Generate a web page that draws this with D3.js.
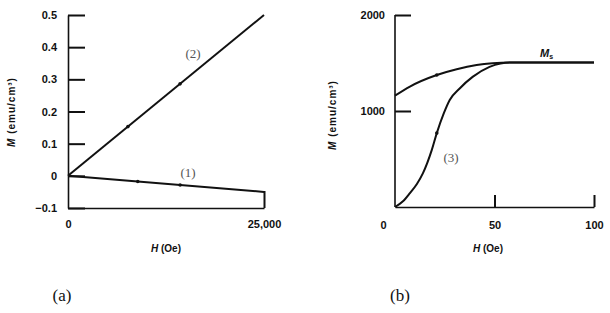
<!DOCTYPE html>
<html>
<head>
<meta charset="utf-8">
<script src="https://cdn.jsdelivr.net/npm/d3@7"></script>
<style>
  body { margin: 0; background: #fff; }
  svg { display: block; }
  .axis path, .axis line { stroke: #111; stroke-width: 1.6; }
  .tk { fill: #111; }
  .axis text { font-family: "Liberation Sans", Arial, sans-serif; font-size: 11px; font-weight: bold; fill: #111; }
  .title { font-family: "Liberation Sans", Arial, sans-serif; font-size: 10px; font-weight: bold; fill: #111; }
  .curve { fill: none; stroke: #111; stroke-width: 2; }
  .tag { font-family: "Liberation Serif", "Times New Roman", serif; font-size: 13px; fill: #555; }
  .panel { font-family: "Liberation Serif", "Times New Roman", serif; font-size: 17px; fill: #111; }
</style>
</head>
<body>
<svg id="graph"></svg>
<script>
/* panel (a): M vs H, straight lines */
var aH = [0, 25000];
var aLine2 = [0, 0.5];      // curve (2)
var aLine1 = [0, -0.05];    // curve (1)
var aDots2H = [7650, 14300];
var aDots1H = [8900, 14300];
var aYTicks = [-0.1, 0, 0.1, 0.2, 0.3, 0.4, 0.5];
var aXTicks = [0, 25000];

/* panel (b): M vs H, Ms and curve (3) */
var msH = [0, 7.5, 21, 31, 41, 49, 58, 75, 100];
var msM = [1160, 1255, 1375, 1435, 1478, 1497, 1505, 1505, 1505];
var c3H = [0, 4, 7.5, 11, 14, 18.5, 21, 24.5, 27.5, 32.5, 39, 47.5, 53, 58, 75, 100];
var c3M = [0, 60, 145, 240, 350, 595, 770, 975, 1115, 1235, 1355, 1460, 1495, 1505, 1505, 1505];
var bYTicks = [1000, 2000];
var bXTicks = [0, 50, 100];

var svg = d3.select("#graph")
    .attr("width", 610)
    .attr("height", 313);

/* ---------- panel (a) ---------- */
var xa = d3.scaleLinear().domain([0, 25000]).range([68, 264]),
    ya = d3.scaleLinear().domain([-0.1, 0.5]).range([208, 15]);

var ga = svg.append("g");

ga.append("g")
    .attr("class", "axis")
    .attr("transform", "translate(" + xa(0) + ",0)")
    .call(d3.axisLeft(ya).tickValues(aYTicks).tickSize(0).tickPadding(11)
        .tickFormat(function(d) { return d === 0 ? "0" : d3.format(".1f")(d).replace("-", "\u2212"); }));

// inward tick marks on the M axis (drawn as thin rects)
ga.selectAll(".ytk").data(aYTicks).enter().append("rect")
    .attr("class", "tk")
    .attr("x", xa(0)).attr("width", 17)
    .attr("y", function(d) { return ya(d) - 0.5; })
    .attr("height", 2);

ga.append("g")
    .attr("class", "axis")
    .attr("transform", "translate(0," + ya(-0.1) + ")")
    .call(d3.axisBottom(xa).tickValues(aXTicks).tickSize(0).tickPadding(12)
        .tickFormat(d3.format(",")));

ga.selectAll(".xtk").data(aXTicks.slice(1)).enter().append("rect")
    .attr("class", "tk")
    .attr("x", function(d) { return xa(d) - 0.5; })
    .attr("width", 2)
    .attr("y", ya(-0.1) - 17).attr("height", 17);

var lineA = d3.line()
    .x(function(d) { return xa(d[0]); })
    .y(function(d) { return ya(d[1]); });

ga.append("path").attr("class", "curve")
    .attr("d", lineA(d3.zip(aH, aLine2)));
ga.append("path").attr("class", "curve")
    .attr("d", lineA(d3.zip(aH, aLine1)));

ga.selectAll(".dot2").data(aDots2H).enter().append("circle")
    .attr("cx", function(d) { return xa(d); })
    .attr("cy", function(d) { return ya(d / 25000 * 0.5); })
    .attr("r", 1.8).attr("fill", "#111");
ga.selectAll(".dot1").data(aDots1H).enter().append("circle")
    .attr("cx", function(d) { return xa(d); })
    .attr("cy", function(d) { return ya(-d / 25000 * 0.05); })
    .attr("r", 1.8).attr("fill", "#111");

ga.append("text").attr("class", "tag").attr("x", 193).attr("y", 58)
    .attr("text-anchor", "middle").text("(2)");
ga.append("text").attr("class", "tag").attr("x", 188).attr("y", 177)
    .attr("text-anchor", "middle").text("(1)");

var ta = ga.append("text").attr("class", "title")
    .attr("transform", "translate(15,112) rotate(-90)")
    .attr("text-anchor", "middle").attr("font-size", "12px").attr("letter-spacing", "1px");
ta.append("tspan").attr("font-style", "italic").text("M");
ta.append("tspan").text(" (emu/cm\u00b3)");

var ha = ga.append("text").attr("class", "title")
    .attr("x", 166).attr("y", 252).attr("text-anchor", "middle");
ha.append("tspan").attr("font-style", "italic").text("H");
ha.append("tspan").text(" (Oe)");

ga.append("text").attr("class", "panel").attr("x", 62).attr("y", 301)
    .attr("text-anchor", "middle").text("(a)");

/* ---------- panel (b) ---------- */
var xb = d3.scaleLinear().domain([0, 100]).range([395, 594]),
    yb = d3.scaleLinear().domain([0, 2000]).range([207, 15]);

var gb = svg.append("g");

gb.append("g")
    .attr("class", "axis")
    .attr("transform", "translate(" + xb(0) + ",0)")
    .call(d3.axisLeft(yb).tickValues(bYTicks).tickSize(0).tickPadding(10)
        .tickFormat(d3.format("d")))
  .select(".domain")
    .attr("d", "M0," + yb(0) + "V" + yb(2000));

gb.selectAll(".ytk").data(bYTicks).enter().append("rect")
    .attr("class", "tk")
    .attr("x", xb(0)).attr("width", 16)
    .attr("y", function(d) { return yb(d) - 0.5; })
    .attr("height", 2);

var bx = gb.append("g")
    .attr("class", "axis")
    .attr("transform", "translate(0," + yb(0) + ")")
    .call(d3.axisBottom(xb).tickValues(bXTicks).tickSize(0).tickPadding(14));
bx.selectAll(".tick").filter(function(d) { return d === 0; })
    .select("text").attr("dx", -12);

gb.selectAll(".xtk").data(bXTicks.slice(1)).enter().append("rect")
    .attr("class", "tk")
    .attr("x", function(d) { return xb(d) - 0.5; })
    .attr("width", 2)
    .attr("y", yb(0) - 12).attr("height", 12);

var lineB = d3.line()
    .curve(d3.curveMonotoneX)
    .x(function(d) { return xb(d[0]); })
    .y(function(d) { return yb(d[1]); });

gb.append("path").attr("class", "curve")
    .attr("d", lineB(d3.zip(msH, msM)));
gb.append("path").attr("class", "curve")
    .attr("d", lineB(d3.zip(c3H, c3M)));

gb.append("circle").attr("cx", xb(msH[2])).attr("cy", yb(msM[2])).attr("r", 1.8).attr("fill", "#111");
gb.append("circle").attr("cx", xb(c3H[6])).attr("cy", yb(c3M[6])).attr("r", 1.8).attr("fill", "#111");

var ms = gb.append("text").attr("class", "title")
    .attr("x", 540).attr("y", 57);
ms.append("tspan").attr("font-style", "italic").attr("font-size", "11px").text("M");
ms.append("tspan").attr("font-size", "7px").attr("dy", 2).text("s");

gb.append("text").attr("class", "tag").attr("x", 451).attr("y", 162)
    .attr("text-anchor", "middle").text("(3)");

var tb = gb.append("text").attr("class", "title")
    .attr("transform", "translate(336,115) rotate(-90)")
    .attr("text-anchor", "middle").attr("font-size", "12px").attr("letter-spacing", "1px");
tb.append("tspan").attr("font-style", "italic").text("M");
tb.append("tspan").text(" (emu/cm\u00b3)");

var hb = gb.append("text").attr("class", "title")
    .attr("x", 488).attr("y", 252).attr("text-anchor", "middle");
hb.append("tspan").attr("font-style", "italic").text("H");
hb.append("tspan").text(" (Oe)");

gb.append("text").attr("class", "panel").attr("x", 400).attr("y", 301)
    .attr("text-anchor", "middle").text("(b)");
</script>
</body>
</html>
